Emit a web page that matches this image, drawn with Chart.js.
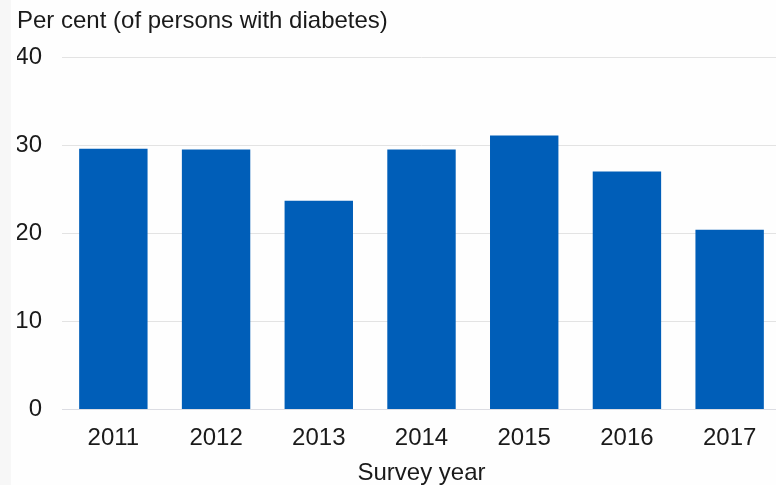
<!DOCTYPE html>
<html>
<head>
<meta charset="utf-8">
<script src="https://cdn.jsdelivr.net/npm/chart.js@4"></script>
<style>
  html, body { margin: 0; padding: 0; background: #fefefe; overflow: hidden; }
  #wrap { position: relative; width: 776px; height: 485px; overflow: hidden; }
  #strip { position: absolute; left: 0; top: 0; width: 11px; height: 485px; background: #f7f7f7; }
  canvas { position: absolute; left: 0; top: 0; }
</style>
</head>
<body>
<div id="wrap">
  <div id="strip"></div>
  <canvas id="c" width="790" height="485"></canvas>
</div>
<script>
const categories = ['2011', '2012', '2013', '2014', '2015', '2016', '2017'];
const values = [29.6, 29.5, 23.7, 29.5, 31.1, 27.0, 20.4];
const yTicks = [0, 10, 20, 30, 40];
const yAxisTitle = 'Per cent (of persons with diabetes)';
const xAxisTitle = 'Survey year';

const FONT = "'Liberation Sans', Arial, sans-serif";

new Chart(document.getElementById('c'), {
  type: 'bar',
  data: {
    labels: categories,
    datasets: [{
      data: values,
      backgroundColor: '#005EB8',
      borderWidth: 0,
      barPercentage: 0.666,
      categoryPercentage: 1.0
    }]
  },
  options: {
    responsive: false,
    animation: false,
    layout: { padding: { left: 17, right: 9, top: 0, bottom: 0 } },
    plugins: {
      legend: { display: false },
      tooltip: { enabled: false },
      title: {
        display: true,
        text: yAxisTitle,
        align: 'start',
        color: '#1a1a1a',
        font: { family: FONT, size: 24, weight: 'normal', lineHeight: 1.0 },
        padding: { top: 9, bottom: 24 }
      }
    },
    scales: {
      x: {
        afterFit: (scale) => { scale.height = 75.5; },
        grid: { display: false, drawTicks: false },
        border: { display: true, color: '#dcdde3', width: 1 },
        ticks: {
          color: '#1a1a1a',
          padding: 17,
          font: { family: FONT, size: 24, lineHeight: 1.0 }
        },
        title: {
          display: true,
          text: xAxisTitle,
          color: '#1a1a1a',
          font: { family: FONT, size: 24, lineHeight: 1.0 },
          padding: { top: 8, bottom: 0 }
        }
      },
      y: {
        min: 0,
        max: 40,
        afterBuildTicks: (scale) => { scale.ticks = yTicks.map(v => ({ value: v })); },
        afterFit: (scale) => { scale.width = 45; },
        grid: { color: '#e3e3e3', lineWidth: 1, drawTicks: false },
        border: { display: false },
        ticks: {
          color: '#1a1a1a',
          padding: 20,
          font: { family: FONT, size: 24, lineHeight: 1.0 }
        }
      }
    }
  }
});
</script>
</body>
</html>
